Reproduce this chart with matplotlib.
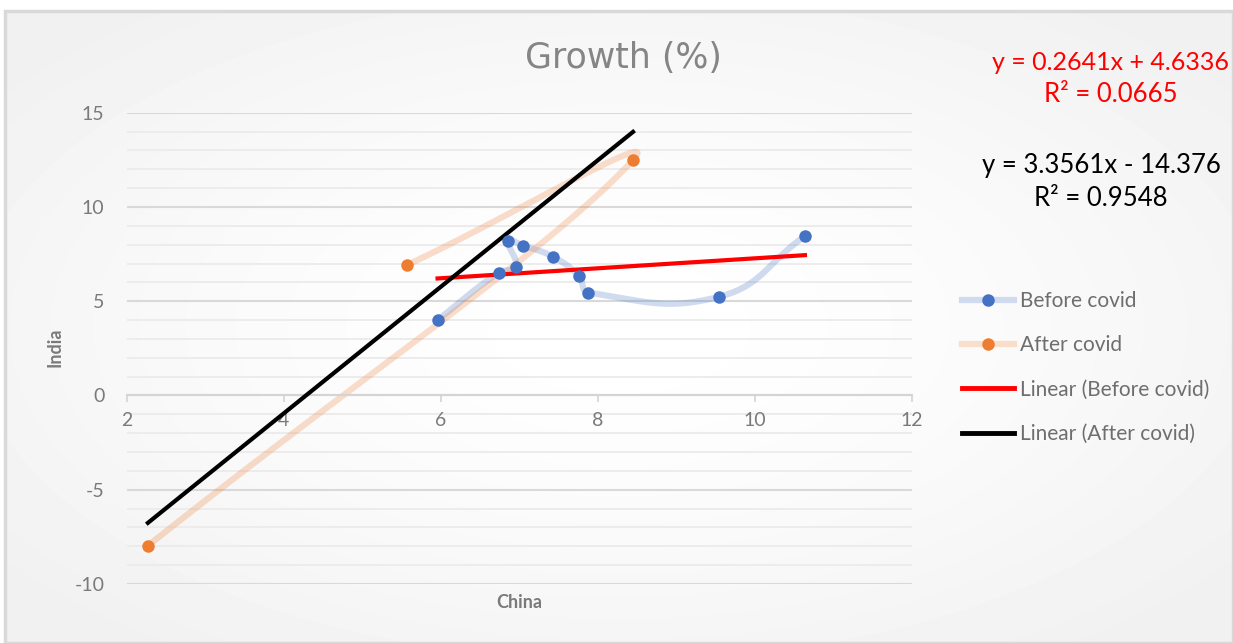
import numpy as np
import matplotlib.pyplot as plt
from matplotlib.lines import Line2D
from matplotlib.patches import Rectangle

# growth (%): China on x, India on y
china_before = [10.64, 9.55, 7.88, 7.76, 7.43, 7.05, 6.86, 6.96, 6.74, 5.96]
india_before = [8.46, 5.24, 5.46, 6.34, 7.36, 7.95, 8.21, 6.82, 6.52, 4.0]
china_after = [2.27, 8.45, 5.57]
india_after = [-7.97, 12.49, 6.92]

# trendline coefficients as printed on the chart
trend_before = (0.2641, 4.6336)
trend_after = (3.3561, -14.376)
eq_before = ["y = 0.2641x + 4.6336", "R² = 0.0665"]
eq_after = ["y = 3.3561x - 14.376", "R² = 0.9548"]

names = ["Before covid", "After covid", "Linear (Before covid)", "Linear (After covid)"]
x_ticks = [2, 4, 6, 8, 10, 12]
y_ticks = [-10, -5, 0, 5, 10, 15]

BLUE = '#4472C4'
ORANGE = '#ED7D31'
TXT = '#7a7a7a'

plt.rcParams['font.family'] = ['Lato', 'DejaVu Sans']
plt.rcParams['axes.unicode_minus'] = False


def excel_smooth(ax, xs, ys, n=40, k=0.45):
    # bezier smoothing like excel's "smoothed line", done in screen space
    pts = ax.transData.transform(np.column_stack([xs, ys]))
    m = len(pts)
    out = []
    for i in range(m - 1):
        p0 = pts[max(i - 1, 0)]
        p1 = pts[i]
        p2 = pts[i + 1]
        p3 = pts[min(i + 2, m - 1)]
        d01 = np.linalg.norm(p1 - p0)
        d12 = np.linalg.norm(p2 - p1)
        d23 = np.linalg.norm(p3 - p2)
        c1 = p1 + (p2 - p0) * (d12 / (d01 + d12)) * k
        c2 = p2 - (p3 - p1) * (d12 / (d12 + d23)) * k
        t = np.linspace(0, 1, n)[:, None]
        seg = (1-t)**3*p1 + 3*(1-t)**2*t*c1 + 3*(1-t)*t**2*c2 + t**3*p2
        out.append(seg if i == 0 else seg[1:])
    return ax.transData.inverted().transform(np.vstack(out))


W, H = 1233, 643
fig = plt.figure(figsize=(W/100, H/100), dpi=100)

# chart area background with a soft radial fade
bg = fig.add_axes([5/W, 0, 1 - 5/W, 1 - 11/H])
gx, gy = np.meshgrid(np.linspace(-1, 1, 400), np.linspace(-1, 1, 200))
r = np.clip(np.sqrt((gx*0.8)**2 + (gy*0.8)**2), 0, 1)
bg.imshow(1 - 0.055*r**1.5, cmap='gray', vmin=0, vmax=1, aspect='auto',
          extent=[0, 1, 0, 1], interpolation='bicubic')
bg.add_patch(Rectangle((0, 0), 1, 1, transform=bg.transAxes, fill=False,
                       edgecolor='#d9d9d9', lw=2.5, clip_on=False))
bg.set_axis_off()

ax = fig.add_axes([126.7/W, 1 - 584/H, (911.7 - 126.7)/W, (584 - 112.7)/H])
ax.set_facecolor('none')
ax.set_xlim(2, 12)
ax.set_ylim(-10, 15)

# gridlines
for v in np.arange(-10, 16, 1):
    major = v % 5 == 0
    ax.axhline(v, color='#d9d9d9' if major else '#ebebeb',
               lw=1.5 if major else 1.3, zorder=0)

for s in ['top', 'right', 'left']:
    ax.spines[s].set_visible(False)
ax.spines['bottom'].set_position(('data', 0))
ax.spines['bottom'].set_color('#d4d4d4')
ax.spines['bottom'].set_linewidth(1.5)
ax.set_xticks(x_ticks)
ax.set_yticks(y_ticks)
ax.tick_params(axis='x', direction='out', length=5, width=1.2, color='#d4d4d4',
               labelsize=14, labelcolor=TXT, pad=7)
ax.tick_params(axis='y', length=0, labelsize=14, labelcolor=TXT, pad=16)

# smoothed series lines
sb = excel_smooth(ax, china_before, india_before)
sa = excel_smooth(ax, china_after, india_after)
ax.plot(sb[:, 0], sb[:, 1], color=BLUE, alpha=0.25, lw=4.5,
        solid_capstyle='round', zorder=2)
ax.plot(sa[:, 0], sa[:, 1], color=ORANGE, alpha=0.25, lw=4.5,
        solid_capstyle='round', zorder=2)

# trendlines over each series' x range
xb = np.array([min(china_before), max(china_before)])
xa = np.array([min(china_after), max(china_after)])
ax.plot(xb, trend_before[0]*xb + trend_before[1], color='#ff0000', lw=3,
        zorder=3)
ax.plot(xa, trend_after[0]*xa + trend_after[1], color='black', lw=3, zorder=3)

ax.plot(china_before, india_before, 'o', color=BLUE, ms=9, mec='none', zorder=4)
ax.plot(china_after, india_after, 'o', color=ORANGE, ms=9, mec='none', zorder=4)

# titles
fig.text(623/W, 1 - 58/H, "Growth (%)", ha='center', va='center',
         fontsize=25, color='#858585', family='DejaVu Sans')
fig.text(519/W, 1 - 603/H, "China", ha='center', va='center',
         fontsize=13, fontweight='bold', color=TXT)
fig.text(55/W, 1 - 347/H, "India", ha='center', va='center', rotation=90,
         fontsize=13, fontweight='bold', color=TXT)

# trendline equations (red one sits at the right edge in the original)
fig.text(1110/W, 1 - 62/H, eq_before[0], ha='center', va='center',
         fontsize=18, color='#ff0000')
fig.text(1111/W, 1 - 95/H, eq_before[1], ha='center', va='center',
         fontsize=18.5, color='#ff0000')
fig.text(1101/W, 1 - 166/H, eq_after[0], ha='center', va='center',
         fontsize=18.5, color='black')
fig.text(1101/W, 1 - 198/H, eq_after[1], ha='center', va='center',
         fontsize=18.5, color='black')

handles = [
    Line2D([], [], color=(0.82, 0.86, 0.94), lw=4.5, marker='o', ms=9,
           mfc=BLUE, mec='none'),
    Line2D([], [], color=(0.98, 0.87, 0.80), lw=4.5, marker='o', ms=9,
           mfc=ORANGE, mec='none'),
    Line2D([], [], color='#ff0000', lw=3.5),
    Line2D([], [], color='black', lw=3.5),
]
leg = fig.legend(handles, names, loc='upper left',
                 bbox_to_anchor=(962/W, 1 - 291/H), frameon=False,
                 fontsize=15, labelcolor='#6e6e6e', handlelength=2.5,
                 handletextpad=0.3, labelspacing=1.17, borderpad=0,
                 borderaxespad=0)

fig.savefig('out.png', dpi=100)
